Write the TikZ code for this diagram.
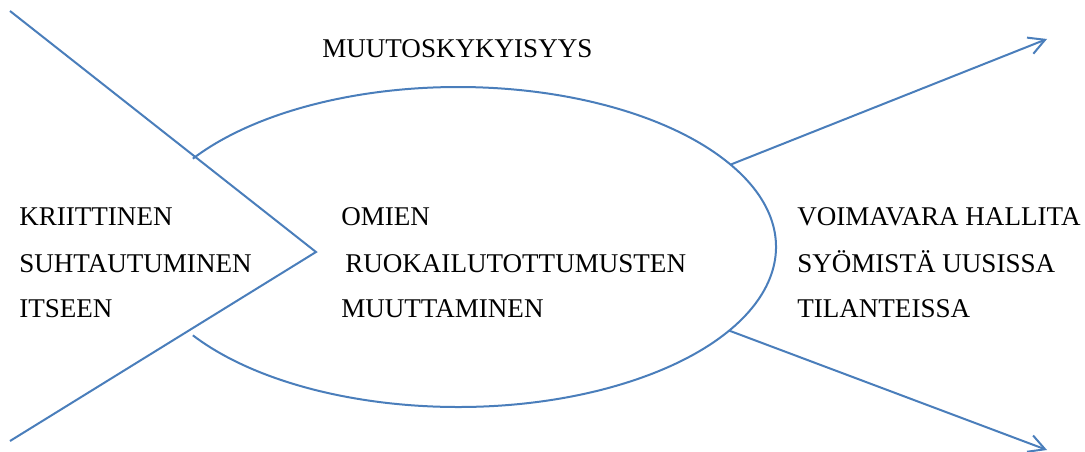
\documentclass[tikz,border=0pt]{standalone}
\usepackage{fontspec}
\setmainfont{Liberation Serif}
\usetikzlibrary{arrows.meta,calc}
\definecolor{lineblue}{HTML}{4A7EBB}
\tikzset{
  outline/.style={draw=lineblue, line width=1.5pt},
  flow/.style={outline, -{Straight Barb[length=12pt,width=13pt,line width=1.5pt]}},
  label/.style={anchor=base west, inner sep=0pt, font=\fontsize{20.3}{24}\selectfont},
}
\begin{document}
\begin{tikzpicture}[x=0.75pt, y=-0.75pt]
  \useasboundingbox (0,0) rectangle (1085,452);

  % open-ended ellipse (the left part is cut off by the wedge)
  \coordinate (c) at (458,247);
  \draw[outline] ($(c)+(146.5:318 and 160)$)
    arc[start angle=146.5, end angle=-146.5, x radius=318, y radius=160];
  \coordinate (eup) at ($(c)+(-31:318 and 160)$);
  \coordinate (edown) at ($(c)+(31.5:318 and 160)$);

  % wedge on the left
  \coordinate (vtop) at (10,11);
  \coordinate (vtip) at (316,252);
  \coordinate (vbot) at (10,441);
  \draw[outline] (vtop) -- (vtip) -- (vbot);

  % outgoing arrows
  \coordinate (tipup) at (1047,39);
  \coordinate (tipdown) at (1047,450);
  \draw[flow] (eup) -- (tipup);
  \draw[flow] (edown) -- (tipdown);

  % texts
  \node[label] (top) at (322,58) {MUUTOSKYKYISYYS};

  \node[label] (l1) at (19,226) {KRIITTINEN};
  \node[label] (l2) at (19,273) {SUHTAUTUMINEN};
  \node[label] (l3) at (19,318) {ITSEEN};

  \node[label] (m1) at (341,226) {OMIEN};
  \node[label] (m2) at (345,273) {RUOKAILUTOTTUMUSTEN};
  \node[label] (m3) at (341,318) {MUUTTAMINEN};

  \node[label] (r1) at (797,226) {VOIMAVARA HALLITA};
  \node[label] (r2) at (797,273) {SYÖMISTÄ UUSISSA};
  \node[label] (r3) at (797,318) {TILANTEISSA};
\end{tikzpicture}
\end{document}
